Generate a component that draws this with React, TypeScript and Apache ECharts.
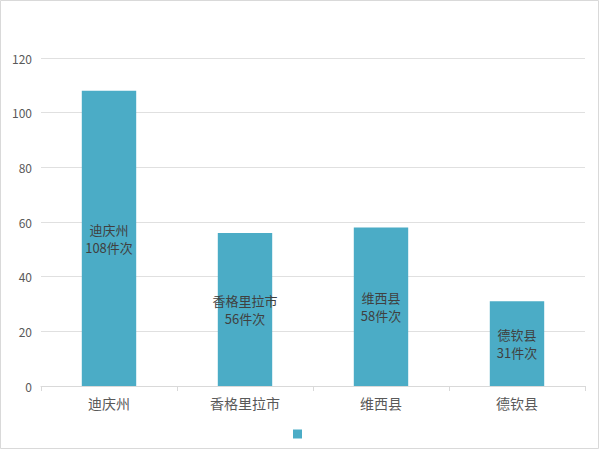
import React, { useEffect, useRef } from "react";
import * as echarts from "echarts";

const categories = ["迪庆州", "香格里拉市", "维西县", "德钦县"];
const values = [108, 56, 58, 31];
const unit = "件次";

export default function App() {
  const ref = useRef<HTMLDivElement>(null);
  useEffect(() => {
    if (!ref.current) return;
    const chart = echarts.init(ref.current, undefined, { renderer: "svg" });
    chart.setOption({
      animation: false,
      backgroundColor: "#ffffff",
      textStyle: { fontFamily: "Noto Sans CJK SC, Noto Sans, sans-serif" },
      grid: { left: 41, right: 15, top: 58, bottom: 64, containLabel: false },
      legend: {
        show: true,
        bottom: 5,
        left: 288,
        itemWidth: 9,
        itemHeight: 9,
        itemGap: 0,
        icon: "rect",
        data: [" "],
        textStyle: { fontSize: 12, color: "#595959" },
      },
      graphic: [
        {
          type: "rect",
          shape: { x: 0.5, y: 0.5, width: 598, height: 448 },
          style: { fill: "none", stroke: "#d9d9d9", lineWidth: 1 },
          silent: true,
        },
      ],
      xAxis: {
        type: "category",
        data: categories,
        axisLine: { lineStyle: { color: "#d9d9d9" } },
        axisTick: { show: true, alignWithLabel: false, length: 5, lineStyle: { color: "#d9d9d9" } },
        axisLabel: { color: "#595959", fontSize: 14, margin: 10 },
      },
      yAxis: {
        type: "value",
        min: 0,
        max: 120,
        interval: 20,
        axisLine: { show: false },
        axisTick: { show: false },
        splitLine: { lineStyle: { color: "#e0e0e0" } },
        axisLabel: { color: "#595959", fontSize: 12, margin: 9 },
      },
      series: [
        {
          name: " ",
          type: "bar",
          data: values,
          barWidth: "40%",
          itemStyle: { color: "#4bacc6" },
          label: {
            show: true,
            position: "inside",
            color: "#404040",
            fontSize: 13,
            lineHeight: 18,
            formatter: (p: any) => `${categories[p.dataIndex]}\n${p.value}${unit}`,
          },
        },
      ],
    });
    return () => chart.dispose();
  }, []);
  return (
    <div
      ref={ref}
      style={{ position: "fixed", left: 0, top: 0, width: 600, height: 450 }}
    />
  );
}
